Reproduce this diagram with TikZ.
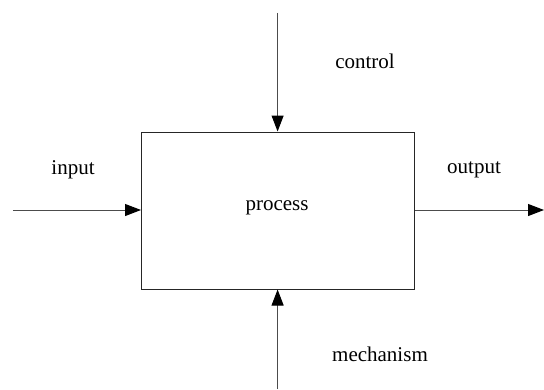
\documentclass[tikz,border=0pt]{standalone}
\usepackage{fontspec}
\setmainfont{Liberation Serif}
\usetikzlibrary{arrows.meta}
\begin{document}
\begin{tikzpicture}[x=1pt,y=-1pt,
  conn/.style={draw=black!70,line width=1pt,-{Triangle[length=16pt,width=12pt,color=black,fill=black]}},
  lbl/.style={font=\fontsize{21}{25}\selectfont,inner sep=0pt}]
\useasboundingbox (0,0) rectangle (544,389);
\node[draw=black!85,line width=1pt,minimum width=273pt,minimum height=157pt,inner sep=0pt,anchor=north west] (proc) at (141,131.5) {};
\node[lbl] (ptext) at (277,208) {process};
\coordinate (cin) at (12.8,210);
\coordinate (cout) at (544,210);
\coordinate (cctl) at (277.6,12.8);
\coordinate (cmech) at (277.6,389);
\draw[conn] (cin) -- (proc.west |- cin);
\draw[conn] (proc.east |- cout) -- (cout);
\draw[conn] (cctl) -- (cctl |- proc.north);
\draw[conn] (cmech) -- (cmech |- proc.south);
\node[lbl] (linput) at (73,170) {input};
\node[lbl] (loutput) at (474,170) {output};
\node[lbl] (lcontrol) at (365,61.4) {control};
\node[lbl] (lmech) at (380,354) {mechanism};
\end{tikzpicture}
\end{document}
